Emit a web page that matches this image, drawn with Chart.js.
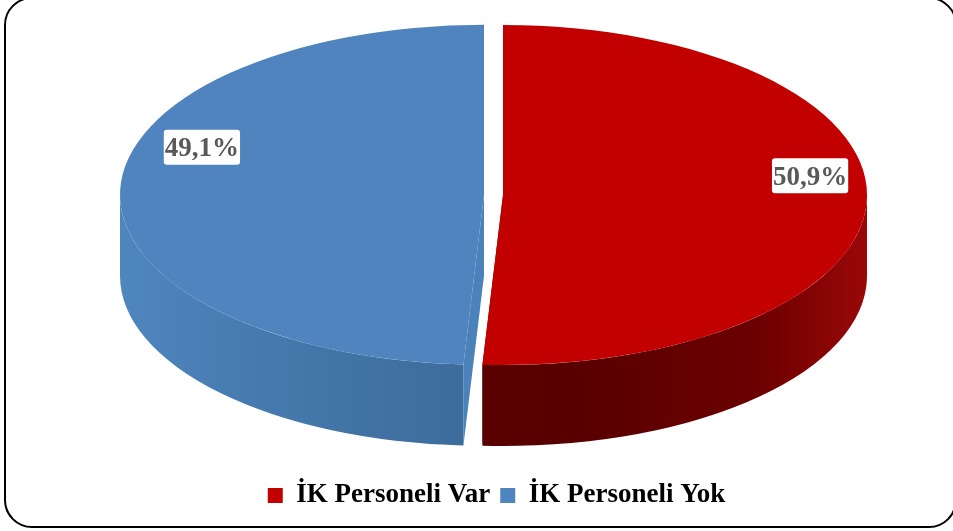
<!DOCTYPE html>
<html>
<head>
<meta charset="utf-8">
<script src="https://cdn.jsdelivr.net/npm/chart.js@4.4.0/dist/chart.umd.min.js"></script>
<style>
    html, body { margin: 0; padding: 0; background: #fff; overflow: hidden; }
    .frame {
        position: absolute; left: 4px; top: -3px; width: 953px; height: 531px;
        border: 2px solid #000; border-radius: 28px; box-sizing: border-box;
    }
    .chart-box { position: absolute; left: 0; top: 0; width: 953px; height: 531px; }
</style>
</head>
<body>
<div class="frame"></div>
<div class="chart-box"><canvas id="hrChart" width="953" height="531"></canvas></div>
<script>
// data
const categories = ['İK Personeli Var', 'İK Personeli Yok'];
const shares = [50.9, 49.1];

// look
const topColors = ['#C20000', '#4F84BF'];
const wallStops = [
    [[0, '#600000'], [0.6, '#580000'], [0.85, '#6c0000'], [1, '#9a0808']],
    [[0, '#4e86be'], [0.3, '#4274a6'], [0.7, '#37638e'], [1, '#2f5a84']]
];
const cutColors = ['#700000', '#4b82ba'];
const explodePx = [0, 19];
const labelNudge = [[16, -23], [9, -44]];

// tilted disc: centre, radii and thickness on screen
const PIE = { cx: 503, cy: 195, rx: 364, ry: 170, depth: 81 };

const pctText = v => v.toFixed(1).replace('.', ',') + '%';

function project(ctx, arc, i) {
    const R = arc.outerRadius;
    const mid = (arc.startAngle + arc.endAngle) / 2;
    const push = explodePx[i];
    ctx.translate(PIE.cx + Math.cos(mid) * push, PIE.cy + Math.sin(mid) * push * PIE.ry / PIE.rx);
    ctx.scale(PIE.rx / R, PIE.ry / R);
    ctx.translate(-arc.x, -arc.y);
}

function cutFace(ctx, arc, angle, d) {
    const { x, y, outerRadius: r } = arc;
    ctx.beginPath();
    ctx.moveTo(x, y);
    ctx.lineTo(x + r * Math.cos(angle), y + r * Math.sin(angle));
    ctx.lineTo(x + r * Math.cos(angle), y + d + r * Math.sin(angle));
    ctx.lineTo(x, y + d);
    ctx.closePath();
    ctx.fill();
}

function wall(ctx, arc, a1, a2, d, stops) {
    const { x, y, outerRadius: r } = arc;
    const g = ctx.createLinearGradient(x - r, 0, x + r, 0);
    stops.forEach(s => g.addColorStop(s[0], s[1]));
    ctx.fillStyle = g;
    ctx.beginPath();
    ctx.arc(x, y, r, a1, a2);
    ctx.lineTo(x + r * Math.cos(a2), y + d + r * Math.sin(a2));
    ctx.arc(x, y + d, r, a2, a1, true);
    ctx.closePath();
    ctx.fill();
}

const tiltedPie = {
    id: 'tiltedPie',
    beforeDatasetsDraw(chart) {
        const ctx = chart.ctx;
        const arcs = chart.getDatasetMeta(0).data;

        // flat cut faces first, they sit behind everything else
        arcs.forEach((arc, i) => {
            const d = PIE.depth * arc.outerRadius / PIE.ry;
            ctx.save();
            project(ctx, arc, i);
            ctx.fillStyle = cutColors[i];
            cutFace(ctx, arc, arc.startAngle, d);
            cutFace(ctx, arc, arc.endAngle, d);
            ctx.restore();
        });

        // front walls, only the half that faces the viewer
        arcs.forEach((arc, i) => {
            const d = PIE.depth * arc.outerRadius / PIE.ry;
            ctx.save();
            project(ctx, arc, i);
            for (let k = -1; k <= 1; k++) {
                const a1 = Math.max(arc.startAngle, k * 2 * Math.PI);
                const a2 = Math.min(arc.endAngle, k * 2 * Math.PI + Math.PI);
                if (a2 > a1) wall(ctx, arc, a1, a2, d, wallStops[i]);
            }
            ctx.restore();
        });

        // top faces drawn by the arc elements themselves
        arcs.forEach((arc, i) => {
            ctx.save();
            project(ctx, arc, i);
            arc.draw(ctx);
            ctx.restore();
        });
        return false;
    },
    afterDraw(chart) {
        const ctx = chart.ctx;
        const arcs = chart.getDatasetMeta(0).data;
        ctx.save();
        ctx.font = 'bold 27px "Liberation Serif", "Times New Roman", serif';
        ctx.textAlign = 'center';
        ctx.textBaseline = 'middle';
        arcs.forEach((arc, i) => {
            const mid = (arc.startAngle + arc.endAngle) / 2;
            const push = explodePx[i];
            const px = PIE.cx + Math.cos(mid) * (push + 0.8 * PIE.rx) + labelNudge[i][0];
            const py = PIE.cy + Math.sin(mid) * 0.8 * PIE.ry + labelNudge[i][1];
            const text = pctText(shares[i]);
            const w = ctx.measureText(text).width + 2;
            const h = 35;
            ctx.fillStyle = '#fff';
            ctx.beginPath();
            ctx.roundRect(px - w / 2, py - h / 2, w, h, 3);
            ctx.fill();
            ctx.fillStyle = '#595959';
            ctx.fillText(text, px, py + 2);
        });
        ctx.restore();
    }
};

new Chart(document.getElementById('hrChart'), {
    type: 'pie',
    data: {
        labels: categories,
        datasets: [{
            data: shares,
            backgroundColor: topColors,
            borderWidth: 0
        }]
    },
    options: {
        responsive: false,
        animation: false,
        layout: { padding: { left: 40, bottom: 12 } },
        plugins: {
            tooltip: { enabled: false },
            legend: {
                position: 'bottom',
                labels: {
                    color: '#000',
                    boxWidth: 15,
                    boxHeight: 15,
                    padding: 10,
                    font: { family: '"Liberation Serif", "Times New Roman", serif', size: 27, weight: 'bold' }
                }
            }
        }
    },
    plugins: [tiltedPie]
});
</script>
</body>
</html>
